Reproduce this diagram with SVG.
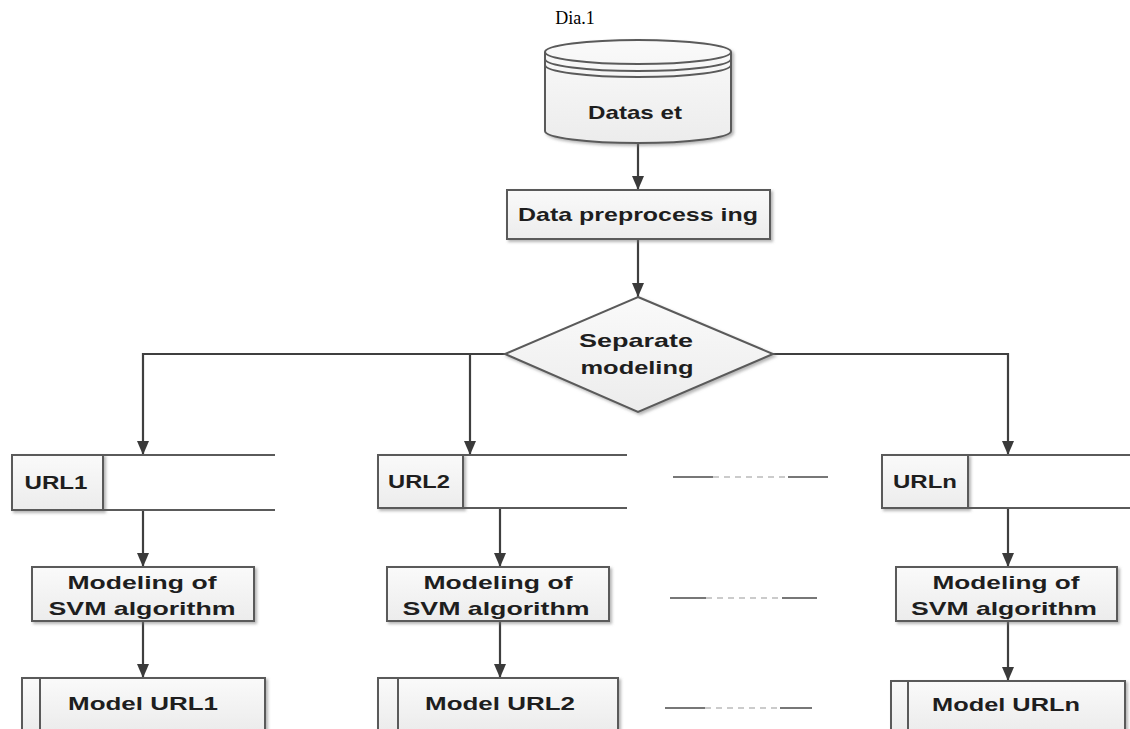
<svg xmlns="http://www.w3.org/2000/svg" width="1130" height="729" viewBox="0 0 1130 729">
<defs>
<marker id="arr" viewBox="0 0 14 12" refX="14" refY="6" markerWidth="14" markerHeight="12" markerUnits="userSpaceOnUse" orient="auto">
<path d="M0,0 L14,6 L0,12 Z" fill="#3a3a3a"/>
</marker>
<filter id="sh" x="-10%" y="-10%" width="130%" height="140%">
<feDropShadow dx="2" dy="2" stdDeviation="1.5" flood-color="#777" flood-opacity="0.55"/>
</filter>
<linearGradient id="g" x1="0" y1="0" x2="0" y2="1">
<stop offset="0" stop-color="#fafafa"/>
<stop offset="1" stop-color="#ececec"/>
</linearGradient>
</defs>
<style>
.box{fill:url(#g);stroke:#5a5a5a;stroke-width:2}
.ln{fill:none;stroke:#5a5a5a;stroke-width:2}
.con{fill:none;stroke:#3f3f3f;stroke-width:2.2}
.t{font-family:"Liberation Sans",Arial,sans-serif;font-weight:bold;font-size:19px;fill:#1e1e1e;text-anchor:middle}
.title{font-family:"Liberation Serif","Times New Roman",serif;font-size:18px;fill:#000;text-anchor:middle}
.sep{fill:none;stroke:#777;stroke-width:2}
.sepd{fill:none;stroke:#bbb;stroke-width:1.5;stroke-dasharray:6 5}
</style>
<rect width="1130" height="729" fill="#fff"/>
<text class="title" x="575" y="24">Dia.1</text>

<g id="connectors">
<line class="con" x1="638" y1="143" x2="638" y2="190" marker-end="url(#arr)"/>
<line class="con" x1="638" y1="240" x2="638" y2="297" marker-end="url(#arr)"/>
<polyline class="con" points="505,354 143,354 143,455" marker-end="url(#arr)"/>
<line class="con" x1="470" y1="354" x2="470" y2="455" marker-end="url(#arr)"/>
<polyline class="con" points="773,354 1008,354 1008,455" marker-end="url(#arr)"/>
<line class="con" x1="143" y1="510" x2="143" y2="567" marker-end="url(#arr)"/>
<line class="con" x1="143" y1="621" x2="143" y2="678" marker-end="url(#arr)"/>
<line class="con" x1="500" y1="508" x2="500" y2="567" marker-end="url(#arr)"/>
<line class="con" x1="500" y1="621" x2="500" y2="678" marker-end="url(#arr)"/>
<line class="con" x1="1008" y1="508" x2="1008" y2="567" marker-end="url(#arr)"/>
<line class="con" x1="1008" y1="621" x2="1008" y2="681" marker-end="url(#arr)"/>
</g>

<g id="dataset">
<path class="box" filter="url(#sh)" d="M545,52 L545,131 A93,12 0 0 0 731,131 L731,52 A93,12 0 0 0 545,52 Z"/>
<path class="ln" d="M545,52 A93,12 0 0 0 731,52 M545,59 A93,12 0 0 0 731,59 M545,65 A93,12 0 0 0 731,65"/>
<text class="t" x="635" y="119" textLength="94" lengthAdjust="spacingAndGlyphs">Datas et</text>
</g>

<g id="preprocessing">
<rect class="box" filter="url(#sh)" x="507" y="190" width="263" height="49"/>
<text class="t" x="638" y="221" textLength="240" lengthAdjust="spacingAndGlyphs">Data preprocess ing</text>
</g>

<g id="separate">
<polygon class="box" filter="url(#sh)" points="638,297 773,354 638,412 505,354"/>
<text class="t" x="636" y="347" textLength="114" lengthAdjust="spacingAndGlyphs">Separate</text>
<text class="t" x="637" y="374" textLength="113" lengthAdjust="spacingAndGlyphs">modeling</text>
</g>

<g id="url1">
<rect class="box" filter="url(#sh)" x="12" y="455" width="91" height="55"/>
<path class="ln" d="M103,455 L275,455 M103,510 L275,510"/>
<text class="t" x="56" y="489" textLength="63" lengthAdjust="spacingAndGlyphs">URL1</text>
</g>
<g id="url2">
<rect class="box" filter="url(#sh)" x="378" y="455" width="85" height="53"/>
<path class="ln" d="M463,455 L627,455 M463,508 L627,508"/>
<text class="t" x="419" y="488" textLength="62" lengthAdjust="spacingAndGlyphs">URL2</text>
</g>
<g id="urln">
<rect class="box" filter="url(#sh)" x="882" y="455" width="86" height="53"/>
<path class="ln" d="M968,455 L1130,455 M968,508 L1130,508"/>
<text class="t" x="925" y="488" textLength="64" lengthAdjust="spacingAndGlyphs">URLn</text>
</g>

<g id="svm1">
<rect class="box" filter="url(#sh)" x="32" y="567" width="222" height="54"/>
<text class="t" x="142" y="589" textLength="149" lengthAdjust="spacingAndGlyphs">Modeling of</text>
<text class="t" x="142" y="615" textLength="187" lengthAdjust="spacingAndGlyphs">SVM algorithm</text>
</g>
<g id="svm2">
<rect class="box" filter="url(#sh)" x="387" y="567" width="222" height="54"/>
<text class="t" x="498" y="589" textLength="149" lengthAdjust="spacingAndGlyphs">Modeling of</text>
<text class="t" x="496" y="615" textLength="187" lengthAdjust="spacingAndGlyphs">SVM algorithm</text>
</g>
<g id="svmn">
<rect class="box" filter="url(#sh)" x="896" y="567" width="221" height="54"/>
<text class="t" x="1006" y="589" textLength="147" lengthAdjust="spacingAndGlyphs">Modeling of</text>
<text class="t" x="1004" y="615" textLength="186" lengthAdjust="spacingAndGlyphs">SVM algorithm</text>
</g>

<g id="model1">
<rect class="box" filter="url(#sh)" x="22" y="678" width="243" height="52"/>
<line class="ln" x1="40" y1="678" x2="40" y2="730"/>
<text class="t" x="143" y="710" textLength="150" lengthAdjust="spacingAndGlyphs">Model URL1</text>
</g>
<g id="model2">
<rect class="box" filter="url(#sh)" x="378" y="678" width="240" height="52"/>
<line class="ln" x1="398" y1="678" x2="398" y2="730"/>
<text class="t" x="500" y="710" textLength="150" lengthAdjust="spacingAndGlyphs">Model URL2</text>
</g>
<g id="modeln">
<rect class="box" filter="url(#sh)" x="891" y="681" width="234" height="50"/>
<line class="ln" x1="908" y1="681" x2="908" y2="731"/>
<text class="t" x="1006" y="711" textLength="148" lengthAdjust="spacingAndGlyphs">Model URLn</text>
</g>

<g id="ellipsis">
<path class="sep" d="M673,477 L713,477 M788,477 L828,477 M670,598 L706,598 M782,598 L817,598 M665,708 L705,708 M780,708 L812,708"/>
<path class="sepd" d="M713,477 L788,477 M706,598 L782,598 M705,708 L780,708"/>
</g>
</svg>
